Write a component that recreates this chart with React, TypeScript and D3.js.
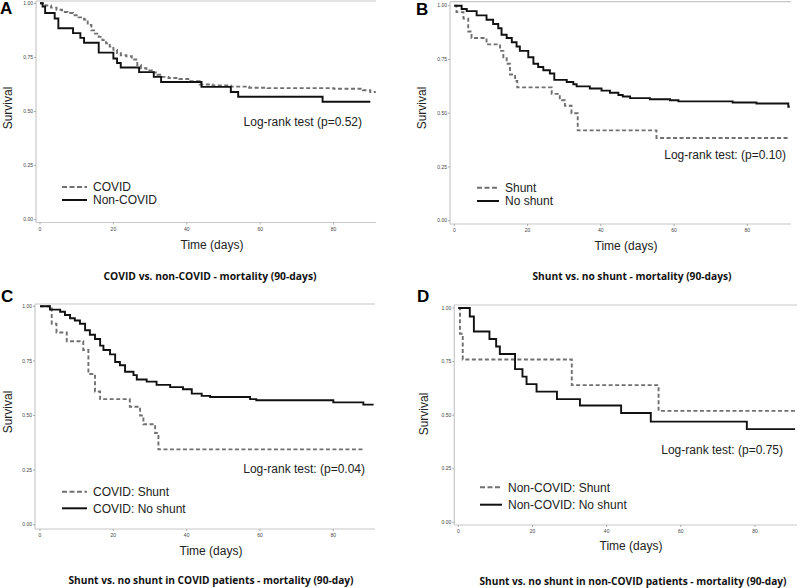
import React from "react";
import * as d3 from "d3";

// ---------- tick values ----------
const xTickValues = [0, 20, 40, 60, 80];
const yTickValues = [0, 0.25, 0.5, 0.75, 1];

// ---------- Panel A: COVID vs non-COVID ----------
const aCovidTimes = [0, 1.5, 3, 4.5, 6, 7.5, 9, 10.5, 12, 13, 14, 15, 16, 17, 18, 19, 20, 21, 22, 23.5, 25, 26.5, 27.5, 29, 30.5, 32, 33, 35, 38, 41, 43.5, 47, 52, 57, 62, 80, 88, 90];
const aCovidSurv = [1, 0.99, 0.98, 0.97, 0.96, 0.955, 0.945, 0.935, 0.925, 0.9, 0.875, 0.86, 0.845, 0.83, 0.815, 0.8, 0.785, 0.77, 0.76, 0.755, 0.74, 0.715, 0.7, 0.69, 0.68, 0.67, 0.66, 0.655, 0.65, 0.64, 0.625, 0.62, 0.615, 0.61, 0.608, 0.605, 0.598, 0.59];
const aNonCovidTimes = [0, 0.7, 1.4, 4, 5, 9, 11, 12, 16, 20, 21, 22, 27, 31, 33, 44, 52, 54, 77];
const aNonCovidSurv = [1, 0.985, 0.955, 0.93, 0.885, 0.862, 0.84, 0.818, 0.772, 0.745, 0.724, 0.703, 0.682, 0.66, 0.636, 0.614, 0.59, 0.568, 0.545];

// ---------- Panel B: Shunt vs no shunt ----------
const bShuntTimes = [0, 0.6, 2.5, 3.8, 4.7, 8.8, 12.5, 13.4, 14.3, 15.2, 16.6, 17.2, 26.6, 28.8, 30.2, 32, 33.7, 55.2];
const bShuntSurv = [1, 0.97, 0.94, 0.88, 0.85, 0.82, 0.79, 0.76, 0.73, 0.68, 0.65, 0.62, 0.59, 0.56, 0.535, 0.5, 0.42, 0.385];
const bNoShuntTimes = [0, 2, 3.4, 6.1, 8.8, 10.6, 12, 12.9, 14.3, 15.7, 17, 17.9, 20.2, 21.6, 22.9, 24.3, 26.1, 27.3, 30.7, 32.5, 33.4, 37, 40.2, 42.5, 44.8, 46, 48, 53.4, 58.9, 61.2, 76, 82.5, 91.2];
const bNoShuntSurv = [1, 0.985, 0.975, 0.955, 0.935, 0.915, 0.895, 0.865, 0.85, 0.83, 0.81, 0.79, 0.76, 0.73, 0.715, 0.7, 0.685, 0.655, 0.645, 0.635, 0.625, 0.615, 0.605, 0.595, 0.585, 0.578, 0.57, 0.565, 0.56, 0.555, 0.55, 0.545, 0.53];

// ---------- Panel C: COVID patients ----------
const cShuntTimes = [0, 3.2, 4.5, 7.3, 11.8, 13.2, 15, 16.4, 24.5, 27.3, 28.2, 31.4, 32.3];
const cShuntSurv = [1, 0.92, 0.88, 0.84, 0.8, 0.69, 0.61, 0.575, 0.54, 0.5, 0.46, 0.42, 0.345];
const cNoShuntTimes = [0, 2.7, 5.5, 6.8, 8.2, 9.5, 10.9, 12.3, 13.6, 15, 16.4, 17.3, 19.1, 20.5, 21.8, 23.2, 25.5, 26.4, 29.1, 31.8, 35.5, 39, 41.4, 44.1, 46.4, 57.3, 59, 80, 88.2];
const cNoShuntSurv = [1, 0.985, 0.975, 0.96, 0.945, 0.935, 0.92, 0.89, 0.87, 0.85, 0.82, 0.8, 0.78, 0.745, 0.73, 0.7, 0.685, 0.665, 0.655, 0.64, 0.63, 0.62, 0.6, 0.59, 0.585, 0.575, 0.57, 0.56, 0.55];

// ---------- Panel D: non-COVID patients ----------
const dShuntTimes = [0, 0.45, 1.2, 30.6, 54];
const dShuntSurv = [1, 0.88, 0.76, 0.64, 0.52];
const dNoShuntTimes = [0, 3.1, 4.2, 8.4, 10.2, 11.2, 15.3, 17.3, 18.4, 19.5, 21.1, 26.6, 32.8, 43.9, 51.9, 77.8];
const dNoShuntSurv = [1, 0.96, 0.89, 0.855, 0.82, 0.785, 0.715, 0.68, 0.645, 0.645, 0.61, 0.575, 0.545, 0.51, 0.47, 0.435];

type Series = { times: number[]; surv: number[]; end: number; dashed: boolean; label: string };

type Geo = {
  x0: number; x80: number; y1: number; y0: number;
  left: number; bottom: number; top: number; right: number;
};

type PanelProps = {
  geo: Geo;
  letter: string; letterX: number; letterY: number;
  series: Series[];
  legendX: number; legendY1: number; legendY2: number; legendLen: number;
  logrank: string; logrankX: number; logrankY: number;
  survX: number; survY: number;
  timeX: number; timeY: number;
  title: string; titleX: number; titleY: number; titleW: number;
};

const fmtY = d3.format(".2f");

function Panel(p: PanelProps) {
  const { geo } = p;
  const x = d3.scaleLinear().domain([0, 80]).range([geo.x0, geo.x80]);
  const y = d3.scaleLinear().domain([0, 1]).range([geo.y0, geo.y1]);
  const line = d3
    .line<[number, number]>()
    .x((d) => x(d[0]))
    .y((d) => y(d[1]))
    .curve(d3.curveStepAfter);
  const frame = "#c8c8c8";
  return (
    <g>
      {/* frame */}
      <line x1={geo.left} x2={geo.right} y1={geo.top} y2={geo.top} stroke={frame} strokeWidth={1.2} />
      <line x1={geo.left} x2={geo.right} y1={geo.bottom} y2={geo.bottom} stroke={frame} strokeWidth={1.2} />
      <line x1={geo.left} x2={geo.left} y1={geo.top} y2={geo.bottom} stroke={frame} strokeWidth={1.2} />
      {/* y ticks */}
      {yTickValues.map((v) => (
        <g key={"y" + v}>
          <line x1={geo.left - 2} x2={geo.left} y1={y(v)} y2={y(v)} stroke="#999" strokeWidth={0.8} />
          <text x={geo.left - 3} y={y(v)} dy="0.35em" textAnchor="end" fontSize={5} fill="#444" fontFamily="Liberation Sans, Arial, sans-serif">
            {fmtY(v)}
          </text>
        </g>
      ))}
      {/* x ticks */}
      {xTickValues.map((v) => (
        <g key={"x" + v}>
          <line x1={x(v)} x2={x(v)} y1={geo.bottom} y2={geo.bottom + 2} stroke="#999" strokeWidth={0.8} />
          <text x={x(v)} y={geo.bottom + 8} textAnchor="middle" fontSize={5} fill="#444" fontFamily="Liberation Sans, Arial, sans-serif">
            {v}
          </text>
        </g>
      ))}
      {/* curves */}
      {p.series.map((s, i) => {
        const pts: [number, number][] = s.times.map((t, k) => [t, s.surv[k]] as [number, number]);
        pts.push([s.end, s.surv[s.surv.length - 1]]);
        return (
          <path
            key={i}
            d={line(pts) || ""}
            fill="none"
            stroke={s.dashed ? "#707070" : "#111"}
            strokeWidth={s.dashed ? 1.9 : 1.9}
            strokeDasharray={s.dashed ? "4,2.5" : undefined}
          />
        );
      })}
      {/* legend */}
      {p.series.map((s, i) => {
        const ly = i === 0 ? p.legendY1 : p.legendY2;
        return (
          <g key={"l" + i}>
            <line
              x1={p.legendX}
              x2={p.legendX + p.legendLen}
              y1={ly}
              y2={ly}
              stroke={s.dashed ? "#707070" : "#111"}
              strokeWidth={2}
              strokeDasharray={s.dashed ? "5,2.5" : undefined}
            />
            <text x={p.legendX + p.legendLen + 6} y={ly} dy="0.35em" fontSize={12} fill="#222" fontFamily="Liberation Sans, Arial, sans-serif">
              {s.label}
            </text>
          </g>
        );
      })}
      {/* log-rank */}
      <text x={p.logrankX} y={p.logrankY} dy="0.35em" textAnchor="end" fontSize={12} fill="#222" fontFamily="Liberation Sans, Arial, sans-serif">
        {p.logrank}
      </text>
      {/* axis labels */}
      <text
        transform={`translate(${p.survX},${p.survY}) rotate(-90)`}
        textAnchor="middle"
        dy="0.35em"
        fontSize={12}
        fill="#222"
        fontFamily="Liberation Sans, Arial, sans-serif"
      >
        Survival
      </text>
      <text x={p.timeX} y={p.timeY} dy="0.35em" textAnchor="middle" fontSize={12} fill="#222" fontFamily="Liberation Sans, Arial, sans-serif">
        Time (days)
      </text>
      {/* title */}
      <text
        x={p.titleX}
        y={p.titleY}
        dy="0.35em"
        textAnchor="middle"
        fontSize={10.5}
        fontWeight="bold"
        fill="#111"
        fontFamily="Open Sans, sans-serif"
        textLength={p.titleW}
        lengthAdjust="spacingAndGlyphs"
      >
        {p.title}
      </text>
      {/* panel letter */}
      <text x={p.letterX} y={p.letterY} fontSize={17} fontWeight="bold" fill="#000" fontFamily="Liberation Sans, Arial, sans-serif">
        {p.letter}
      </text>
    </g>
  );
}

export default function App() {
  return (
    <svg width={800} height={588} style={{ position: "absolute", left: 0, top: 0, background: "#fff" }}>
      <rect width={800} height={588} fill="#fff" />
      <Panel
        geo={{ x0: 40, x80: 333.6, y1: 3.3, y0: 219.7, left: 36, bottom: 222.5, top: 1, right: 376 }}
        letter="A" letterX={0} letterY={14}
        series={[
          { times: aCovidTimes, surv: aCovidSurv, end: 91.5, dashed: true, label: "COVID" },
          { times: aNonCovidTimes, surv: aNonCovidSurv, end: 90, dashed: false, label: "Non-COVID" },
        ]}
        legendX={62} legendY1={187} legendY2={200} legendLen={25}
        logrank="Log-rank test (p=0.52)" logrankX={362} logrankY={121.7}
        survX={8} survY={108}
        timeX={212} timeY={245}
        title="COVID vs. non-COVID - mortality (90-days)" titleX={210} titleY={276} titleW={213}
      />
      <Panel
        geo={{ x0: 454.3, x80: 747.3, y1: 5.7, y0: 220.7, left: 450, bottom: 224, top: 1.7, right: 791 }}
        letter="B" letterX={416} letterY={15}
        series={[
          { times: bShuntTimes, surv: bShuntSurv, end: 91.6, dashed: true, label: "Shunt" },
          { times: bNoShuntTimes, surv: bNoShuntSurv, end: 91.6, dashed: false, label: "No shunt" },
        ]}
        legendX={477} legendY1={187.7} legendY2={201} legendLen={22}
        logrank="Log-rank test: (p=0.10)" logrankX={786} logrankY={155}
        survX={421.5} survY={108}
        timeX={626} timeY={246}
        title="Shunt vs. no shunt - mortality (90-days)" titleX={632} titleY={276} titleW={199}
      />
      <Panel
        geo={{ x0: 40, x80: 333.3, y1: 306.3, y0: 524.7, left: 35, bottom: 529, top: 304, right: 375 }}
        letter="C" letterX={1} letterY={302}
        series={[
          { times: cShuntTimes, surv: cShuntSurv, end: 88.6, dashed: true, label: "COVID: Shunt" },
          { times: cNoShuntTimes, surv: cNoShuntSurv, end: 91, dashed: false, label: "COVID: No shunt" },
        ]}
        legendX={62} legendY1={491.7} legendY2={508.3} legendLen={25}
        logrank="Log-rank test: (p=0.04)" logrankX={365} logrankY={469}
        survX={7.5} survY={412}
        timeX={211} timeY={550.7}
        title="Shunt vs. no shunt in COVID patients - mortality (90-day)" titleX={211} titleY={580} titleW={285}
      />
      <Panel
        geo={{ x0: 458.3, x80: 755, y1: 308, y0: 522.3, left: 454.3, bottom: 525, top: 305, right: 797 }}
        letter="D" letterX={417} letterY={302}
        series={[
          { times: dShuntTimes, surv: dShuntSurv, end: 91.2, dashed: true, label: "Non-COVID: Shunt" },
          { times: dNoShuntTimes, surv: dNoShuntSurv, end: 90.8, dashed: false, label: "Non-COVID: No shunt" },
        ]}
        legendX={480} legendY1={487.3} legendY2={504.7} legendLen={22}
        logrank="Log-rank test: (p=0.75)" logrankX={783} logrankY={450}
        survX={424} survY={414}
        timeX={631} timeY={546}
        title="Shunt vs. no shunt in non-COVID patients - mortality (90-day)" titleX={633} titleY={581} titleW={307}
      />
    </svg>
  );
}
